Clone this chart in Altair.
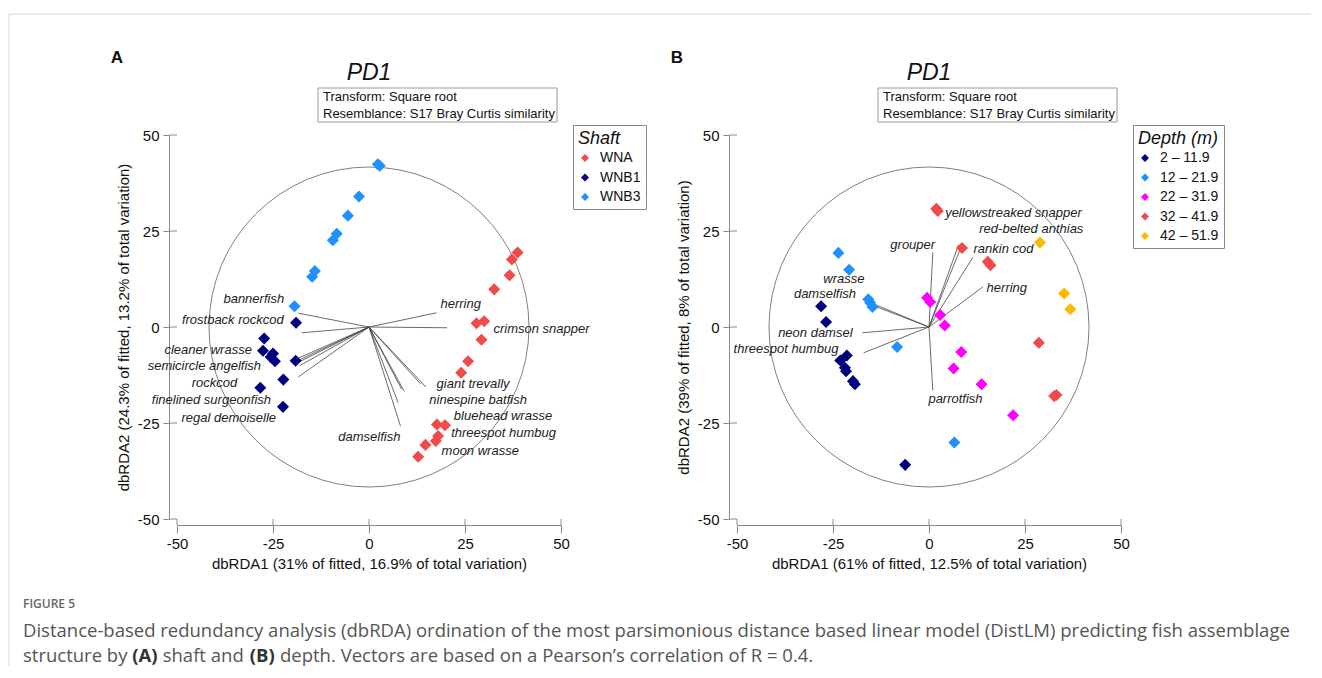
import altair as alt
import pandas as pd

FONT = "Liberation Sans"
CAP_FONT = "Open Sans"
AXIS_GREY = "#8a8a8a"
TICKS = [-50, -25, 0, 25, 50]

# ---------------- Panel A : shaft ----------------
A_GROUPS = ["WNA", "WNB1", "WNB3"]
A_COLORS = ["#F04A4A", "#00007F", "#1E90FF"]
A_WNA_X = [38.7, 37.2, 36.6, 32.6, 30.0, 28.0, 29.3, 25.8, 24.0, 17.7, 19.8, 18.0, 17.4, 14.7, 12.8]
A_WNA_Y = [19.4, 17.6, 13.5, 9.8, 1.5, 1.0, -3.3, -8.9, -11.9, -25.4, -25.6, -28.4, -29.7, -30.7, -33.8]
A_WNB1_X = [-19.0, -27.3, -27.6, -25.0, -24.5, -25.6, -19.1, -22.3, -28.3, -22.4]
A_WNB1_Y = [1.1, -3.0, -6.2, -6.9, -8.9, -7.8, -8.8, -13.7, -15.8, -20.8]
A_WNB3_X = [2.3, 2.8, -2.6, -5.5, -8.4, -9.4, -14.1, -14.8, -19.4]
A_WNB3_Y = [42.4, 42.0, 34.0, 29.0, 24.3, 22.6, 14.6, 13.1, 5.4]

A_VEC_NAMES = ["bannerfish", "frostback rockcod", "cleaner wrasse", "semicircle angelfish",
               "rockcod", "finelined surgeonfish", "regal demoiselle", "herring",
               "crimson snapper", "giant trevally", "ninespine batfish", "bluehead wrasse",
               "threespot humbug", "moon wrasse", "damselfish"]
A_VEC_X = [-18.4, -17.5, -18.6, -18.4, -18.1, -19.0, -18.4, 17.6, 20.3, 14.8, 13.5, 9.2, 8.5, 7.6, 8.2]
A_VEC_Y = [3.6, -1.5, -8.2, -8.7, -10.1, -9.5, -13.0, 3.7, -0.2, -15.6, -14.9, -16.8, -16.2, -19.7, -25.8]
A_LAB_X = [-22.1, -22.2, -30.5, -28.1, -34.3, -25.5, -24.2, 18.6, 32.4, 17.6, 15.7, 22.1, 21.4, 18.9, 0.1]
A_LAB_Y = [7.3, 1.8, -5.9, -10.2, -14.5, -19.1, -23.6, 6.1, -0.6, -14.9, -19.1, -23.3, -27.5, -32.4, -28.6]
A_LAB_ALIGN = ["right"] * 7 + ["left"] * 7 + ["center"]

# ---------------- Panel B : depth ----------------
B_GROUPS = ["2 – 11.9", "12 – 21.9", "22 – 31.9", "32 – 41.9", "42 – 51.9"]
B_COLORS = ["#00007F", "#1E90FF", "#FF00FF", "#F04A4A", "#FFB800"]
B_G1_X = [-28.1, -26.8, -21.4, -23.1, -21.9, -21.6, -19.8, -19.3, -6.2]
B_G1_Y = [5.4, 1.3, -7.4, -8.7, -10.6, -11.5, -14.1, -14.9, -35.9]
B_G2_X = [-23.6, -20.8, -15.8, -15.3, -14.7, -8.3, 6.6]
B_G2_Y = [19.3, 14.9, 7.2, 6.3, 5.2, -5.2, -30.1]
B_G3_X = [-0.5, 0.3, 2.9, 4.1, 8.4, 6.4, 13.7, 21.9]
B_G3_Y = [7.6, 6.5, 3.1, 0.4, -6.5, -10.8, -14.9, -23.0]
B_G4_X = [1.9, 2.3, 8.6, 15.3, 16.0, 28.6, 32.6, 33.2]
B_G4_Y = [30.8, 30.2, 20.6, 17.0, 16.1, -4.1, -18.0, -17.7]
B_G5_X = [28.9, 35.2, 36.8]
B_G5_Y = [22.0, 8.7, 4.6]

B_VEC_NAMES = ["yellowstreaked snapper", "red-belted anthias", "grouper", "rankin cod", "herring",
               "wrasse", "damselfish", "neon damsel", "threespot humbug", "parrotfish"]
B_VEC_X = [7.7, 8.3, 1.0, 11.4, 14.1, -17.3, -16.4, -17.3, -17.0, 1.0]
B_VEC_Y = [21.4, 20.7, 19.4, 18.1, 10.5, 7.2, 6.3, -1.5, -6.7, -16.5]
B_LAB_X = [4.2, 40.2, 1.6, 11.6, 15.0, -16.8, -19.0, -19.9, -23.6, 6.9]
B_LAB_Y = [29.6, 25.4, 21.4, 20.4, 10.1, 12.6, 8.5, -1.5, -5.8, -18.7]
B_LAB_ALIGN = ["left", "right", "right", "left", "left", "right", "right", "right", "right", "center"]

HEADER_1 = "Transform: Square root"
HEADER_2 = "Resemblance: S17 Bray Curtis similarity"
CAPTION_TAG = "FIGURE 5"
CAPTION_1 = ("Distance-based redundancy analysis (dbRDA) ordination of the most parsimonious "
             "distance based linear model (DistLM) predicting fish assemblage")
# second caption line, split into (text, bold) runs
CAPTION_2 = [("structure by", False), ("(A)", True), ("shaft and", False), ("(B)", True),
             ("depth. Vectors are based on a Pearson’s correlation of R = 0.4.", False)]
CAPTION_2_X = [-154, -44.7, -14.3, 72.8, 103.0]


def points_frame(groups, xs_list, ys_list):
    rows = []
    for g, xs, ys in zip(groups, xs_list, ys_list):
        for x, y in zip(xs, ys):
            rows.append({"x": x, "y": y, "group": g})
    return pd.DataFrame(rows)


def vec_frame(names, vx, vy, lx, ly, al):
    return pd.DataFrame({"name": names, "vx": vx, "vy": vy, "lx": lx, "ly": ly,
                         "align": al, "ox": 0.0, "oy": 0.0})


def panel(points, groups, colors, legend_title, vec, letter, xtitle, ytitle, caption=False):
    xs = alt.Scale(domain=[-50, 50], nice=False, zero=False)
    ys = alt.Scale(domain=[-50, 50], nice=False, zero=False)
    common = dict(values=TICKS, grid=False, domainColor=AXIS_GREY, tickColor=AXIS_GREY,
                  labelFont=FONT, titleFont=FONT, labelFontSize=15, titleFontSize=15,
                  labelColor="#111", titleColor="#111", titleFontWeight="normal",
                  labelFlush=False, domainWidth=1, tickWidth=1,
                  labelExpr="replace(datum.label, '\u2212', '-')")
    ax = alt.Axis(title=xtitle, offset=6, tickSize=8, labelPadding=3, titlePadding=5, **common)
    ay = alt.Axis(title=ytitle, offset=8, tickSize=6, labelPadding=4, titlePadding=6, **common)

    def X(f):
        return alt.X(f, scale=xs, axis=ax)

    def Y(f):
        return alt.Y(f, scale=ys, axis=ay)

    origin = pd.DataFrame({"x": [0.0], "y": [0.0]})
    circle = alt.Chart(origin).mark_point(
        shape="circle", size=102400, filled=False, color="#707070", strokeWidth=0.9, opacity=1
    ).encode(x=X("x:Q"), y=Y("y:Q"))

    tick_df = pd.DataFrame({"v": TICKS})
    ytick_in = alt.Chart(tick_df).mark_rule(color=AXIS_GREY, strokeWidth=1).encode(
        y=Y("v:Q"), x=alt.value(-8), x2=alt.value(0))
    xtick_in = alt.Chart(tick_df).mark_rule(color=AXIS_GREY, strokeWidth=1).encode(
        x=X("v:Q"), y=alt.value(384), y2=alt.value(390))

    vecs = alt.Chart(vec).mark_rule(color="#444", strokeWidth=0.8).encode(
        x=X("ox:Q"), y=Y("oy:Q"), x2="vx:Q", y2="vy:Q")

    pts = alt.Chart(points).mark_point(
        shape="diamond", filled=True, size=145, opacity=1, strokeWidth=0
    ).encode(
        x=X("x:Q"), y=Y("y:Q"),
        color=alt.Color("group:N", scale=alt.Scale(domain=groups, range=colors),
                        legend=alt.Legend(title=legend_title, orient="none", legendX=396, legendY=-10,
                                          titleFont=FONT, titleFontSize=18, titleFontStyle="italic",
                                          titleFontWeight="normal", titleColor="#111",
                                          labelFont=FONT, labelFontSize=14, labelColor="#111",
                                          symbolType="diamond", symbolSize=64, symbolStrokeWidth=0,
                                          strokeColor="#888", fillColor="white", padding=5,
                                          rowPadding=5.5, titlePadding=3, labelOffset=8)))

    labels = []
    for al in ["left", "right", "center"]:
        labels.append(alt.Chart(vec).transform_filter(alt.datum.align == al).mark_text(
            align=al, baseline="middle", font=FONT, fontStyle="italic", fontSize=13, color="#222"
        ).encode(x=X("lx:Q"), y=Y("ly:Q"), text="name:N"))

    one = pd.DataFrame({"k": [0]})
    deco = [
        alt.Chart(one).mark_text(text=letter, font=FONT, fontWeight="bold", fontSize=17,
                                 align="center", baseline="middle", color="#111"
                                 ).encode(x=alt.value(-60), y=alt.value(-77)),
        alt.Chart(one).mark_text(text="PD1", font=FONT, fontStyle="italic", fontSize=23,
                                 align="center", baseline="middle", color="#111"
                                 ).encode(x=alt.value(192), y=alt.value(-62)),
        alt.Chart(one).mark_rect(fill="white", stroke="#999", strokeWidth=1
                                 ).encode(x=alt.value(141), x2=alt.value(380),
                                          y=alt.value(-47), y2=alt.value(-13)),
        alt.Chart(one).mark_text(text=HEADER_1, font=FONT, fontSize=13, align="left",
                                 baseline="middle", color="#111"
                                 ).encode(x=alt.value(146), y=alt.value(-38)),
        alt.Chart(one).mark_text(text=HEADER_2, font=FONT, fontSize=13, align="left",
                                 baseline="middle", color="#111"
                                 ).encode(x=alt.value(146), y=alt.value(-21)),
    ]
    if caption:
        deco += [
            alt.Chart(one).mark_rule(color="#d8d8d8", strokeWidth=1).encode(
                x=alt.value(-168), x2=alt.value(1134), y=alt.value(-121)),
            alt.Chart(one).mark_rule(color="#d8d8d8", strokeWidth=1).encode(
                x=alt.value(-168), y=alt.value(-121), y2=alt.value(531)),
            alt.Chart(one).mark_text(text=CAPTION_TAG, font=CAP_FONT, fontSize=12, fontWeight=600,
                                     align="left", baseline="middle", color="#666"
                                     ).encode(x=alt.value(-154), y=alt.value(469)),
            alt.Chart(one).mark_text(text=CAPTION_1, font=CAP_FONT, fontSize=18.5,
                                     align="left", baseline="middle", color="#555"
                                     ).encode(x=alt.value(-154), y=alt.value(496)),
        ]
        for (txt, bold), cx in zip(CAPTION_2, CAPTION_2_X):
            deco.append(alt.Chart(one).mark_text(
                text=txt, font=CAP_FONT, fontSize=18.5, fontWeight=700 if bold else 400,
                align="left", baseline="middle", color="#333" if bold else "#555"
            ).encode(x=alt.value(cx), y=alt.value(521)))

    return alt.layer(circle, ytick_in, xtick_in, vecs, pts, *labels, *deco).properties(
        width=384, height=384)


pa = points_frame(A_GROUPS, [A_WNA_X, A_WNB1_X, A_WNB3_X], [A_WNA_Y, A_WNB1_Y, A_WNB3_Y])
pb = points_frame(B_GROUPS, [B_G1_X, B_G2_X, B_G3_X, B_G4_X, B_G5_X],
                  [B_G1_Y, B_G2_Y, B_G3_Y, B_G4_Y, B_G5_Y])
va = vec_frame(A_VEC_NAMES, A_VEC_X, A_VEC_Y, A_LAB_X, A_LAB_Y, A_LAB_ALIGN)
vb = vec_frame(B_VEC_NAMES, B_VEC_X, B_VEC_Y, B_LAB_X, B_LAB_Y, B_LAB_ALIGN)

panel_a = panel(pa, A_GROUPS, A_COLORS, "Shaft", va, "A",
                "dbRDA1 (31% of fitted, 16.9% of total variation)",
                "dbRDA2 (24.3% of fitted, 13.2% of total variation)", caption=True)
panel_b = panel(pb, B_GROUPS, B_COLORS, "Depth (m)", vb, "B",
                "dbRDA1 (61% of fitted, 12.5% of total variation)",
                "dbRDA2 (39% of fitted, 8% of total variation)")

chart = alt.hconcat(panel_a, panel_b, spacing=176, bounds="flush").resolve_scale(
    color="independent", x="independent", y="independent"
).properties(
    padding={"left": 0, "top": 5, "right": 0, "bottom": 0},
    background="white",
).configure_view(strokeWidth=0)

chart.save("out.html", embed_options={"renderer": "svg", "actions": False})
